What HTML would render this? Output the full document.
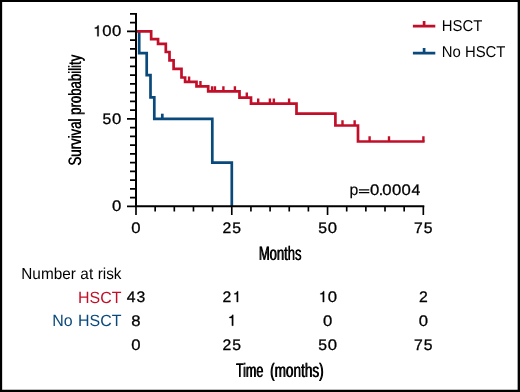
<!DOCTYPE html><html><head><meta charset="utf-8"><title>KM</title><style>
html,body{margin:0;padding:0;background:#fff}body{width:520px;height:392px;overflow:hidden}
svg{display:block}text{font-family:"Liberation Sans",sans-serif;text-rendering:geometricPrecision}
</style></head><body>
<svg width="520" height="392" viewBox="0 0 520 392">
<rect x="0" y="0" width="520" height="392" fill="#fff"/>
<path d="M0,0H520V2.1H0Z M0,389.85H520V392H0Z M0,0H2.15V392H0Z M517.65,0H520V392H517.65Z" fill="#000"/>
<path d="M139.2,31.4 V53.1 H146.7 V75.2 H150.5 V97.4 H154.3 V118.9 H212.3 V162.7 H231.8 V206.3" fill="none" stroke="#0a497b" stroke-width="2.7" stroke-linejoin="miter" stroke-linecap="butt"/>
<path d="M162.3,118.9 V113.7" fill="none" stroke="#0a497b" stroke-width="2.7"/>
<path d="M136,31.4 H151.15 V39.15 H158.05 V43.9 H165.8 V52.0 H169.5 V60.4 H173.6 V68.8 H181.5 V77.5 H185.1 V81.8 H196.5 V86.3 H208.2 V91.4 H239.5 V97.6 H251.0 V103.65 H296.5 V113.6 H335.4 V125.5 H358.0 V141.5 H424.6" fill="none" stroke="#c20f29" stroke-width="2.7" stroke-linejoin="miter" stroke-linecap="butt"/>
<path d="M189.1,81.8 V76.60 M200.45,86.3 V81.10 M212.1,91.4 V86.20 M214.95,91.4 V86.20 M223.4,91.4 V86.20 M234.9,91.4 V86.20 M246.8,97.6 V92.40 M258.2,103.65 V98.45 M269.9,103.65 V98.45 M273.85,103.65 V98.45 M289.1,103.65 V98.45 M342.5,125.5 V120.30 M354.65,125.5 V120.30 M369.6,141.5 V136.30 M389.0,141.5 V136.30 M423.4,141.5 V136.30 " fill="none" stroke="#c20f29" stroke-width="2.4"/>
<path d="M136,13.1 V207.3 M135,206.3 H424.3 " fill="none" stroke="#000" stroke-width="2"/>
<path d="M127,206.30 H136 M130,197.56 H136 M130,188.81 H136 M130,180.06 H136 M130,171.32 H136 M130,162.58 H136 M130,153.83 H136 M130,145.09 H136 M130,136.34 H136 M130,127.60 H136 M127,118.85 H136 M130,110.11 H136 M130,101.36 H136 M130,92.62 H136 M130,83.87 H136 M130,75.12 H136 M130,66.38 H136 M130,57.63 H136 M130,48.89 H136 M130,40.15 H136 M127,31.40 H136 M130,22.66 H136 M130,13.91 H136 M136.00,206.3 V215 M155.16,206.3 V211.5 M174.31,206.3 V211.5 M193.47,206.3 V211.5 M212.62,206.3 V211.5 M231.78,206.3 V215 M250.93,206.3 V211.5 M270.09,206.3 V211.5 M289.24,206.3 V211.5 M308.39,206.3 V211.5 M327.55,206.3 V215 M346.70,206.3 V211.5 M365.86,206.3 V211.5 M385.01,206.3 V211.5 M404.17,206.3 V211.5 M423.32,206.3 V215 " fill="none" stroke="#000" stroke-width="1.65"/>
<path d="M412.9,26.1 H435.3 M424.1,26.1 V20.9" fill="none" stroke="#c20f29" stroke-width="2.7"/>
<path d="M412.9,53.1 H435.3 M424.1,53.1 V48.1" fill="none" stroke="#0a497b" stroke-width="2.7"/>
<g opacity="0.999">
<text transform="translate(441.7,30.5) scale(0.95,1)" font-size="15.7" text-anchor="start" fill="#000">HSCT</text>
<text transform="translate(441.7,57.4) scale(0.95,1)" font-size="15.7" text-anchor="start" fill="#000">No HSCT</text>
<text transform="translate(349.6,194.7) scale(1.0,1)" font-size="15.8" text-anchor="start" fill="#000" stroke="#000" stroke-width="0.15">p</text>
<path d="M358.9,189.2H369.3V190.45H358.9Z M358.9,192.05H369.3V193.3H358.9Z" fill="#000"/>
<text transform="translate(374.7,194.65) scale(1.0918,1)" font-size="15.3" text-anchor="middle" fill="#000" stroke="#000" stroke-width="0.3">0</text>
<text transform="translate(380.85,194.65) scale(1.03,1)" font-size="15.3" text-anchor="middle" fill="#000" stroke="#000" stroke-width="0.3">.</text>
<text transform="translate(386.9,194.65) scale(1.0918,1)" font-size="15.3" text-anchor="middle" fill="#000" stroke="#000" stroke-width="0.3">0</text>
<text transform="translate(396.55,194.65) scale(1.0918,1)" font-size="15.3" text-anchor="middle" fill="#000" stroke="#000" stroke-width="0.3">0</text>
<text transform="translate(406.2,194.65) scale(1.0918,1)" font-size="15.3" text-anchor="middle" fill="#000" stroke="#000" stroke-width="0.3">0</text>
<text transform="translate(415.85,194.65) scale(1.03,1)" font-size="15.3" text-anchor="middle" fill="#000" stroke="#000" stroke-width="0.3">4</text>
<path transform="translate(92.82,36.3) scale(0.01576,-0.01530)" d="M372,0 L284,0 L284,505 L128,505 L128,570 C215,574 290,612 314,709 L372,709 Z" fill="#000" stroke="#000" stroke-width="19.6"/>
<text transform="translate(106.94,36.3) scale(1.0918,1)" font-size="15.3" text-anchor="middle" fill="#000" stroke="#000" stroke-width="0.3">0</text>
<text transform="translate(116.68,36.3) scale(1.0918,1)" font-size="15.3" text-anchor="middle" fill="#000" stroke="#000" stroke-width="0.3">0</text>
<text transform="translate(106.94,123.60000000000001) scale(1.03,1)" font-size="15.3" text-anchor="middle" fill="#000" stroke="#000" stroke-width="0.3">5</text>
<text transform="translate(116.68,123.60000000000001) scale(1.0918,1)" font-size="15.3" text-anchor="middle" fill="#000" stroke="#000" stroke-width="0.3">0</text>
<text transform="translate(116.68,211.3) scale(1.0918,1)" font-size="15.3" text-anchor="middle" fill="#000" stroke="#000" stroke-width="0.3">0</text>
<text transform="translate(136.0,233.1) scale(1.0918,1)" font-size="15.3" text-anchor="middle" fill="#000" stroke="#000" stroke-width="0.3">0</text>
<text transform="translate(226.9,233.1) scale(1.03,1)" font-size="15.3" text-anchor="middle" fill="#000" stroke="#000" stroke-width="0.3">2</text>
<text transform="translate(236.65,233.1) scale(1.03,1)" font-size="15.3" text-anchor="middle" fill="#000" stroke="#000" stroke-width="0.3">5</text>
<text transform="translate(322.68,233.1) scale(1.03,1)" font-size="15.3" text-anchor="middle" fill="#000" stroke="#000" stroke-width="0.3">5</text>
<text transform="translate(332.42,233.1) scale(1.0918,1)" font-size="15.3" text-anchor="middle" fill="#000" stroke="#000" stroke-width="0.3">0</text>
<text transform="translate(418.45,233.1) scale(1.03,1)" font-size="15.3" text-anchor="middle" fill="#000" stroke="#000" stroke-width="0.3">7</text>
<text transform="translate(428.2,233.1) scale(1.03,1)" font-size="15.3" text-anchor="middle" fill="#000" stroke="#000" stroke-width="0.3">5</text>
<text transform="translate(279.78999999999996,260.3) scale(0.665,1)" font-size="19.6" text-anchor="middle" fill="#000">Months</text>
<text transform="translate(280.51,260.3) scale(0.665,1)" font-size="19.6" text-anchor="middle" fill="#000">Months</text>
<text transform="translate(235.64,376.7) scale(0.64,1)" font-size="19.6" text-anchor="start" fill="#000">Time</text>
<text transform="translate(236.36,376.7) scale(0.64,1)" font-size="19.6" text-anchor="start" fill="#000">Time</text>
<text transform="translate(323.34,376.7) scale(0.693,1)" font-size="19.6" text-anchor="end" fill="#000">(months)</text>
<text transform="translate(324.06,376.7) scale(0.693,1)" font-size="19.6" text-anchor="end" fill="#000">(months)</text>
<text transform="translate(81.35,110.36999999999999) rotate(-90) scale(0.738,1)" font-size="17.9" text-anchor="middle" fill="#000">Survival probability</text>
<text transform="translate(81.35,109.83) rotate(-90) scale(0.738,1)" font-size="17.9" text-anchor="middle" fill="#000">Survival probability</text>
<text transform="translate(21.3,279.05) scale(0.958,1)" font-size="16.0" text-anchor="start" fill="#000" word-spacing="0.3">Number at risk</text>
<text transform="translate(121.4,302.8) scale(0.985,1)" font-size="16.2" text-anchor="end" fill="#c20f29">HSCT</text>
<text transform="translate(121.4,326.4) scale(0.985,1)" font-size="16.2" text-anchor="end" fill="#0a497b" word-spacing="1.0">No HSCT</text>
<text transform="translate(131.13,302.1) scale(1.03,1)" font-size="15.3" text-anchor="middle" fill="#000" stroke="#000" stroke-width="0.3">4</text>
<text transform="translate(140.87,302.1) scale(1.03,1)" font-size="15.3" text-anchor="middle" fill="#000" stroke="#000" stroke-width="0.3">3</text>
<text transform="translate(226.9,302.1) scale(1.03,1)" font-size="15.3" text-anchor="middle" fill="#000" stroke="#000" stroke-width="0.3">2</text>
<path transform="translate(232.26,302.1) scale(0.01576,-0.01530)" d="M372,0 L284,0 L284,505 L128,505 L128,570 C215,574 290,612 314,709 L372,709 Z" fill="#000" stroke="#000" stroke-width="19.6"/>
<path transform="translate(318.30,302.1) scale(0.01576,-0.01530)" d="M372,0 L284,0 L284,505 L128,505 L128,570 C215,574 290,612 314,709 L372,709 Z" fill="#000" stroke="#000" stroke-width="19.6"/>
<text transform="translate(332.42,302.1) scale(1.0918,1)" font-size="15.3" text-anchor="middle" fill="#000" stroke="#000" stroke-width="0.3">0</text>
<text transform="translate(423.32,302.1) scale(1.03,1)" font-size="15.3" text-anchor="middle" fill="#000" stroke="#000" stroke-width="0.3">2</text>
<text transform="translate(136.0,325.70000000000005) scale(1.0918,1)" font-size="15.3" text-anchor="middle" fill="#000" stroke="#000" stroke-width="0.3">8</text>
<path transform="translate(227.39,325.70000000000005) scale(0.01576,-0.01530)" d="M372,0 L284,0 L284,505 L128,505 L128,570 C215,574 290,612 314,709 L372,709 Z" fill="#000" stroke="#000" stroke-width="19.6"/>
<text transform="translate(327.55,325.70000000000005) scale(1.0918,1)" font-size="15.3" text-anchor="middle" fill="#000" stroke="#000" stroke-width="0.3">0</text>
<text transform="translate(423.32,325.70000000000005) scale(1.0918,1)" font-size="15.3" text-anchor="middle" fill="#000" stroke="#000" stroke-width="0.3">0</text>
<text transform="translate(136.0,349.70000000000005) scale(1.0918,1)" font-size="15.3" text-anchor="middle" fill="#000" stroke="#000" stroke-width="0.3">0</text>
<text transform="translate(226.9,349.70000000000005) scale(1.03,1)" font-size="15.3" text-anchor="middle" fill="#000" stroke="#000" stroke-width="0.3">2</text>
<text transform="translate(236.65,349.70000000000005) scale(1.03,1)" font-size="15.3" text-anchor="middle" fill="#000" stroke="#000" stroke-width="0.3">5</text>
<text transform="translate(322.68,349.70000000000005) scale(1.03,1)" font-size="15.3" text-anchor="middle" fill="#000" stroke="#000" stroke-width="0.3">5</text>
<text transform="translate(332.42,349.70000000000005) scale(1.0918,1)" font-size="15.3" text-anchor="middle" fill="#000" stroke="#000" stroke-width="0.3">0</text>
<text transform="translate(418.45,349.70000000000005) scale(1.03,1)" font-size="15.3" text-anchor="middle" fill="#000" stroke="#000" stroke-width="0.3">7</text>
<text transform="translate(428.2,349.70000000000005) scale(1.03,1)" font-size="15.3" text-anchor="middle" fill="#000" stroke="#000" stroke-width="0.3">5</text>
</g>
</svg></body></html>
